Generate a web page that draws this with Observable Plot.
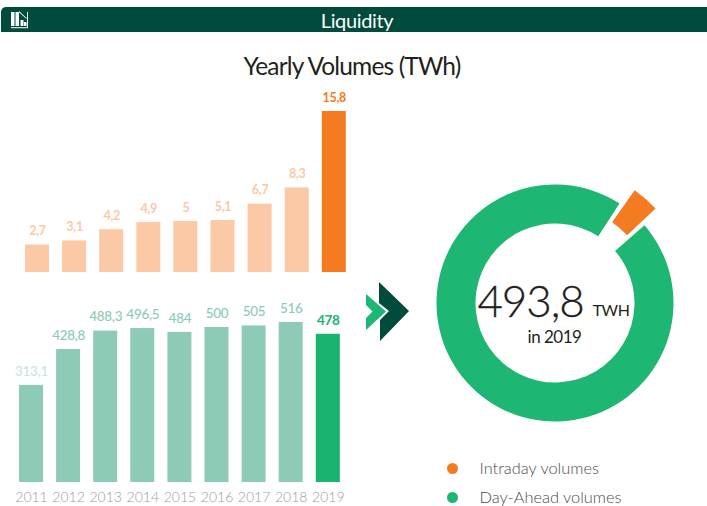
<!DOCTYPE html>
<html>
<head>
<meta charset="utf-8">
<script src="https://cdn.jsdelivr.net/npm/d3@7"></script>
<script src="https://cdn.jsdelivr.net/npm/@observablehq/plot@0.6"></script>
<style>
html,body{margin:0;padding:0;background:#fff;}
#stage{position:relative;width:707px;height:506px;overflow:hidden;font-family:Lato,sans-serif;}
#stage>svg,#stage>figure{position:absolute;left:0;top:0;margin:0;background:transparent;}
#header{position:absolute;left:1px;top:7px;width:706px;height:25px;background:#004b3c;border-top-left-radius:5px;color:#fff;font-size:20px;font-weight:400;line-height:26px;text-align:center;padding-left:6px;box-sizing:border-box;letter-spacing:-.35px;}
#title{position:absolute;left:0;top:50px;width:704px;text-align:center;font-size:24.5px;font-weight:400;color:#231f20;line-height:32px;letter-spacing:-.85px;}
#chev{position:absolute;left:0;top:0;z-index:3;}
.tight text{letter-spacing:-.5px;}
.tight1 text{letter-spacing:-.3px;}
.tight2 text{letter-spacing:-1.1px;}
</style>
</head>
<body>
<div id="stage">
  <div id="header">Liquidity</div>
  <div id="title">Yearly Volumes (TWh)</div>
</div>
<script>
const years = ["2011","2012","2013","2014","2015","2016","2017","2018","2019"];
const intradayValues = [2.7,3.1,4.2,4.9,5,5.1,6.7,8.3,15.8];
const dayAheadValues = [313.1,428.8,488.3,496.5,484,500,505,516,478];
const donutLabels = ["Intraday volumes","Day-Ahead volumes"];
const donutValues = [15.8,478];
const donutColors = ["#f47b20","#1eb673"];
const totalLabel = "493,8";

const ORANGE="#f47b20", ORANGE_L="#fbc9a5", GREEN="#1ab370", GREEN_L="#8ecbb6";
const fmt = v => String(v).replace(".", ",");
const stage = document.getElementById("stage");
const base = {width:707,height:506,marginTop:0,marginRight:0,marginBottom:0,marginLeft:0,
  style:{background:"transparent",fontFamily:"Lato, sans-serif"}};
const rows = v => years.map((year,i)=>({year,value:v[i],last:i===years.length-1,first:i===0}));

// Intraday bars
const up = rows(intradayValues);
stage.append(Plot.plot({...base,
  x:{type:"band",domain:years,range:[11.9,358.9],padding:0.353,round:false,axis:null},
  y:{domain:[0,15.8],range:[272,111],axis:null},
  marks:[
    Plot.barY(up,{x:"year",y:"value",fill:d=>d.last?ORANGE:ORANGE_L}),
    Plot.text(up,{x:"year",y:"value",text:d=>fmt(d.value),dy:-14,fontSize:12.5,fontWeight:700,className:"tight1",
      fill:d=>d.last?ORANGE:ORANGE_L})
  ]}));

// Day-ahead bars
const low = rows(dayAheadValues);
stage.append(Plot.plot({...base,marginBottom:24,
  x:{type:"band",domain:years,range:[5.9,352.9],padding:0.353,round:false,label:null},
  y:{domain:[0,516],range:[482,322],axis:null},
  marks:[
    Plot.barY(low,{x:"year",y:"value",fill:d=>d.last?GREEN:GREEN_L}),
    Plot.text(low.filter(d=>!d.last),{x:"year",y:"value",text:d=>fmt(d.value),dy:-14,fontSize:13.5,className:"tight1",
      fontWeight:500,fill:d=>d.first?"#c6e6da":GREEN_L}),
    Plot.text(low.filter(d=>d.last),{x:"year",y:"value",text:d=>fmt(d.value),dy:-14,fontSize:13.5,className:"tight1",
      fontWeight:700,fill:GREEN}),
    Plot.axisX({tickSize:0,tickPadding:10,fontSize:14,fill:"#9c9c9c",fontWeight:300,label:null,stroke:"none"})
  ]}));

// Donut
const CX=555, CY=303, R=118.5, r=79.5, SHIFT=19.5;
const rad = d => d*Math.PI/180;
const pieAngles = d3.pie().sort(null).startAngle(rad(35.25)).endAngle(rad(395.25))(donutValues);
function donut(){
  const g = d3.create("svg:g").attr("transform",`translate(${CX},${CY})`);
  const arc = d3.arc();
  pieAngles.forEach((p,i)=>{
    const exploded = i===0, inset = exploded?0:rad(2.3);
    g.append("path").attr("fill",donutColors[i]).attr("d",arc({
      innerRadius:r+(exploded?SHIFT:0), outerRadius:R+(exploded?SHIFT:0),
      startAngle:p.startAngle+inset, endAngle:p.endAngle-inset}));
  });
  return g.node();
}
stage.append(Plot.plot({...base,
  x:{domain:[-1,1],range:[CX-100,CX+100],axis:null},
  y:{domain:[-1,1],range:[CY+100,CY-100],axis:null},
  marks:[
    donut,
    Plot.text([totalLabel],{x:()=>0,y:()=>0,dx:-25,dy:-1,text:d=>d,fontSize:44,fontWeight:300,fill:"#1f1e1f",stroke:"#1f1e1f",strokeWidth:0.3,className:"tight2"}),
    Plot.text(["TWH"],{x:()=>0,y:()=>0,dx:55.5,dy:7,text:d=>d,fontSize:16,fontWeight:400,fill:"#231f20",className:"tight"}),
    Plot.text(["in 2019"],{x:()=>0,y:()=>0,dx:-1,dy:34,text:d=>d,fontSize:17,fontWeight:400,fill:"#231f20",className:"tight"})
  ]}));

// Legend
stage.append(Plot.plot({...base,
  x:{domain:[0,1],range:[452,479],axis:null},
  y:{type:"point",domain:donutLabels,range:[468,497],padding:0,axis:null},
  marks:[
    Plot.dot(donutLabels,{x:()=>0,y:d=>d,r:5.5,fill:(d,i)=>donutColors[i],stroke:"none"}),
    Plot.text(donutLabels,{x:()=>1,y:d=>d,text:d=>d,textAnchor:"start",fontSize:16.4,fontWeight:300,fill:"#4d4d4d"})
  ]}));

// Decorative header icon and arrows
stage.insertAdjacentHTML("beforeend",`
<svg id="chev" width="707" height="506">
  <polygon points="366,294 386,311.5 366,330 366,318 372.5,311.5 366,305" fill="#1eb673"/>
  <polygon points="379,282 409,311 380,341 380,320 389,311 379,303" fill="#004b3c"/>
  <g fill="#fff">
    <rect x="11" y="12" width="3.5" height="14"/><rect x="15.5" y="12" width="3.5" height="14"/>
    <rect x="20.5" y="20" width="3" height="6"/><rect x="24" y="22" width="2.5" height="4"/>
    <rect x="11" y="27.2" width="17" height="1"/>
    <rect x="27" y="12" width="1" height="16"/>
    <polygon points="19,11 26.5,18 26.5,19 19,12.2"/>
  </g>
</svg>`);
</script>
</body>
</html>
